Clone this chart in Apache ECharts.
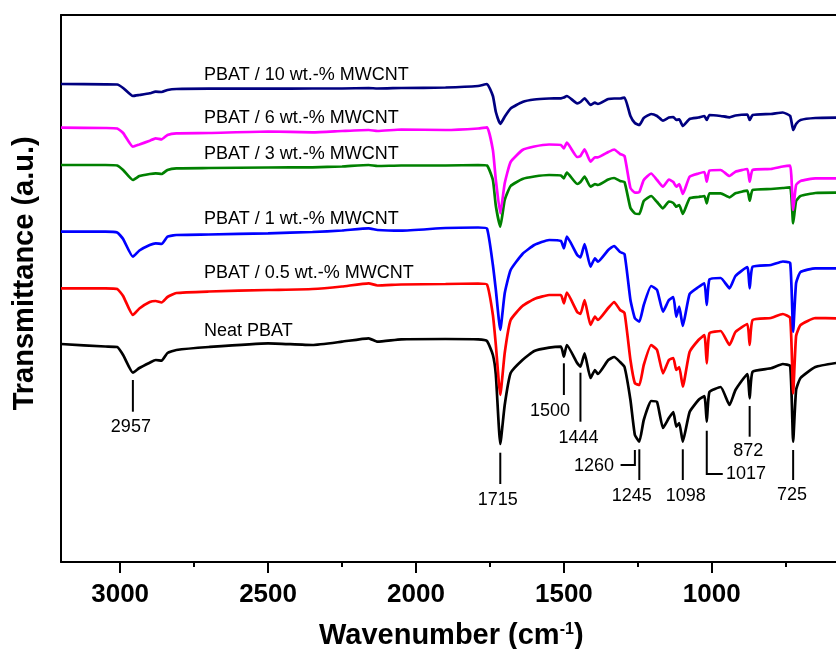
<!DOCTYPE html>
<html>
<head>
<meta charset="utf-8">
<script src="https://cdn.jsdelivr.net/npm/echarts@6/dist/echarts.min.js"></script>
<style>
  html, body { margin: 0; padding: 0; background: #ffffff; }
  #chart { width: 836px; height: 649px; }
</style>
</head>
<body>
<div id="chart"></div>
<script>
// FTIR spectra of PBAT and PBAT/MWCNT composites, stacked (transmittance in a.u.)
const wavenumbers = [3200,3050,3010,2990,2957,2935,2900,2880,2860,2840,2810,2700,2500,2350,2250,2160,2130,2050,1900,1790,1760,1740,1730,1715,1700,1680,1640,1600,1550,1510,1500,1490,1455,1444,1430,1410,1395,1385,1350,1330,1310,1295,1275,1260,1245,1230,1205,1185,1165,1145,1130,1120,1110,1098,1075,1045,1025,1017,1008,970,940,920,880,872,862,800,760,735,725,715,700,650,580];

const neatPBAT = [218,215.5,215,207,189.3,194,199.3,202,201.3,209,212,215,218.7,217,220.3,223.7,220.3,222.7,223,222.7,221,207,187,118,157,189,202,211,214.3,215.3,205.3,217,199,195.3,208.7,184,192,188,202,205,200,195,162,127,120.3,142,161,160,134,144,150,135.3,139,120.3,150,162,166,140.3,170,175,157,172,188,163.7,190.3,193.7,198,196,120.3,172,184,195,199];
const mwcnt05 = [273.7,273.7,273,266,247,253.5,260,261,259.5,265,269,270.5,272,273,275.5,278.7,276.5,277.5,278,278.5,277.5,247,217,167,209,242,256,263,267,267,258.7,269.3,250,248,262,237,245.3,242,254,260,252,249,202,178.7,177,197,217,212,188.7,202,204,192,195,175.3,210,222,227,198.7,228.7,231,217,230,238,217,242,244,248,244,168.7,226,237,244,243.7];
const mwcnt1 = [330.3,330.3,329.5,323,305.3,311.5,317,318.7,318,325.3,327,327.5,328.7,330,331.5,333.7,332,331.3,334,334.5,333.5,297,272,232,268.7,292,308,317,322,321,313.7,325.3,307,304.7,318,295.3,303.7,300.3,312,316,310,308,262,243.7,240.3,257,276,272,250.3,262,265,245.3,255.3,236,268,275,278.7,257,282.7,284,273.7,286,295,273.7,295.3,297,300.5,299,230.3,279,290,293.7,293.7];
const mwcnt3 = [397,397,396.5,392,382,386,388,388.7,388,392,393.7,394,394.5,394.7,395.5,397,396,396.5,396.5,397,396.5,382,356,335.3,362,376,383,385.5,387,386.5,383.7,389.3,378,380,385.3,375.3,378,377,382.5,384,381,380,354,348.5,348,361,366,360,353.7,360.5,359,355.3,357,348,363.7,365,366,358.7,368.7,368.7,364.7,368.7,371.3,361.3,372,373,374,374.7,338.7,361,366,369,369.3];
const mwcnt6 = [434.3,434,433.5,429,415.3,417.5,421.3,423.7,422.7,427,428.7,429,430.5,429.7,431,432,431,432.5,432,433.5,434.7,412,382,348.7,378.7,400,412,415.5,417.5,417,413.7,419.3,405,406,412.7,400.3,404.7,404.7,410,412.5,408,406,374,369.3,370,382,388.5,382,375.3,382.5,380,375.3,378,368,385.3,388.5,390,380.3,391.3,392,386,390.3,393,380.3,392,393,395.5,396.3,352,377,381,383.7,383.7];
const mwcnt10 = [478,477.7,477.5,474,466,467,468.7,470.3,470,472,473,473.3,473.3,473.5,473.5,474,473.5,474,474.5,476,478,466,450,438,445.3,453.5,460,462.5,463.5,463.7,464.5,466,458.7,460,463.7,457,459.3,458,463,463.5,463.5,464.5,446,439,437,444,448,446,441.3,444.5,445,442,442.7,436,443,444.5,446,442,447,446,444.7,446.5,447.5,442,447,448,449.5,446,432,438,442,444,444.3];

const seriesNames = ['Neat PBAT', 'PBAT / 0.5 wt.-% MWCNT', 'PBAT / 1 wt.-% MWCNT', 'PBAT / 3 wt.-% MWCNT', 'PBAT / 6 wt.-% MWCNT', 'PBAT / 10 wt.-% MWCNT'];
const seriesValues = [neatPBAT, mwcnt05, mwcnt1, mwcnt3, mwcnt6, mwcnt10];

// x-axis tick values
const xTickValues = [500, 1000, 1500, 2000, 2500, 3000];

// assigned absorption bands
const peakWavenumbers = [2957, 1715, 1500, 1444, 1260, 1245, 1098, 1017, 872, 725];

// ---- styling and layout ----
const FONT = '"Liberation Sans", Arial, Helvetica, sans-serif';
const seriesColors = ['#000000', '#ff0000', '#0000ff', '#008000', '#ff00ff', '#000080'];
const seriesLabelPos = [[204, 330.7], [204, 273.3], [204, 219], [204, 154], [204, 118.3], [204, 75]];

// pointer line extent (a.u.), text offset (px); elbow = horizontal leg length (px)
const peakLayout = [
  { top: 182,   bottom: 150.3, dx: -2,    dy: 15 },
  { top: 109.3, bottom: 78,    dx: -2.5,  dy: 16 },
  { top: 198.7, bottom: 167,   dx: -13.8, dy: 16 },
  { top: 189.3, bottom: 140.3, dx: -2,    dy: 16.3 },
  { top: 112,   bottom: 97,    elbow: -14.3, gap: 6.5, dy: 1.5 },
  { top: 112.7, bottom: 82,    dx: -7.5,  dy: 16 },
  { top: 112.7, bottom: 82,    dx: 3,     dy: 16 },
  { top: 131.3, bottom: 88,    elbow: 16, gap: 3.3, dy: 0.5 },
  { top: 156,   bottom: 125.3, dx: -1.3,  dy: 14 },
  { top: 112,   bottom: 82,    dx: -1.2,  dy: 15 }
];

const chart = echarts.init(document.getElementById('chart'), null, { renderer: 'canvas' });

const axisBlack = { color: '#000', width: 2 };

const lineSeries = seriesValues.map((vals, i) => ({
  name: seriesNames[i],
  type: 'line',
  data: wavenumbers.map((w, j) => [w, vals[j]]),
  showSymbol: false,
  symbol: 'none',
  smooth: 0.15,
  lineStyle: { color: seriesColors[i], width: 2.7 },
  itemStyle: { color: seriesColors[i] },
  z: 2 + i,
  silent: true
}));

const peakSeries = {
  type: 'custom',
  name: 'peaks',
  data: peakWavenumbers.map(w => [w, 0]),
  encode: { x: 0, y: 1 },
  clip: false,
  silent: true,
  z: 20,
  renderItem: function (params, api) {
    const L = peakLayout[params.dataIndex];
    const wn = api.value(0);
    const p1 = api.coord([wn, L.top]);
    const p2 = api.coord([wn, L.bottom]);
    const pts = [p1, p2];
    let tx, ty, align;
    if (L.elbow) {
      const end = [p2[0] + L.elbow, p2[1]];
      pts.push(end);
      align = L.elbow < 0 ? 'right' : 'left';
      tx = end[0] + (L.elbow < 0 ? -L.gap : L.gap);
      ty = p2[1] + L.dy;
    } else {
      align = 'center';
      tx = p2[0] + L.dx;
      ty = p2[1] + L.dy;
    }
    return {
      type: 'group',
      children: [
        { type: 'polyline', shape: { points: pts }, style: { stroke: '#000', lineWidth: 2, fill: null } },
        { type: 'text', style: { text: String(wn), x: tx, y: ty, align: align, verticalAlign: 'middle',
            fill: '#000', font: '18px ' + FONT } }
      ]
    };
  }
};

const labelGraphics = seriesNames.map((name, i) => ({
  type: 'text',
  x: seriesLabelPos[i][0],
  y: seriesLabelPos[i][1],
  style: { text: name, fill: '#000', font: '18px ' + FONT, align: 'left', verticalAlign: 'middle' },
  z: 30
}));

chart.setOption({
  animation: false,
  backgroundColor: '#ffffff',
  grid: { left: 61, top: 15, width: 798.7, height: 547, containLabel: false, outerBoundsMode: 'none' },
  xAxis: [
    {
      type: 'value', inverse: true, min: 500, max: 3200, interval: 500, position: 'bottom',
      axisLine: { show: true, onZero: false, lineStyle: axisBlack },
      axisTick: { show: true, inside: false, length: 11, lineStyle: axisBlack, customValues: xTickValues },
      minorTick: { show: true, splitNumber: 2, length: 5, lineStyle: axisBlack },
      axisLabel: { show: true, color: '#000', fontSize: 26, fontWeight: 'bold', fontFamily: FONT,
                   margin: 20, customValues: xTickValues, formatter: v => String(v) },
      splitLine: { show: false }, minorSplitLine: { show: false }
    },
    {
      type: 'value', inverse: true, min: 500, max: 3200, position: 'top',
      axisLine: { show: true, onZero: false, lineStyle: axisBlack },
      axisTick: { show: false }, axisLabel: { show: false }, splitLine: { show: false }
    }
  ],
  yAxis: {
    type: 'value', min: 0, max: 547,
    axisLine: { show: true, onZero: false, lineStyle: axisBlack },
    axisTick: { show: false }, axisLabel: { show: false }, splitLine: { show: false }
  },
  series: lineSeries.concat([peakSeries]),
  graphic: labelGraphics.concat([
    {
      type: 'text', x: 319, y: 636,
      style: {
        text: '{a|Wavenumber (cm}{s|-1}{a|)}',
        align: 'left', verticalAlign: 'middle',
        rich: {
          a: { fontSize: 29, fontWeight: 'bold', fontFamily: FONT, fill: '#000' },
          s: { fontSize: 16, fontWeight: 'bold', fontFamily: FONT, fill: '#000', verticalAlign: 'top' }
        }
      },
      z: 30
    },
    {
      type: 'text', x: 25, y: 273.3, rotation: Math.PI / 2,
      style: { text: 'Transmittance (a.u.)', align: 'center', verticalAlign: 'middle',
               font: 'bold 29px ' + FONT, fill: '#000' },
      z: 30
    }
  ])
});
</script>
</body>
</html>
